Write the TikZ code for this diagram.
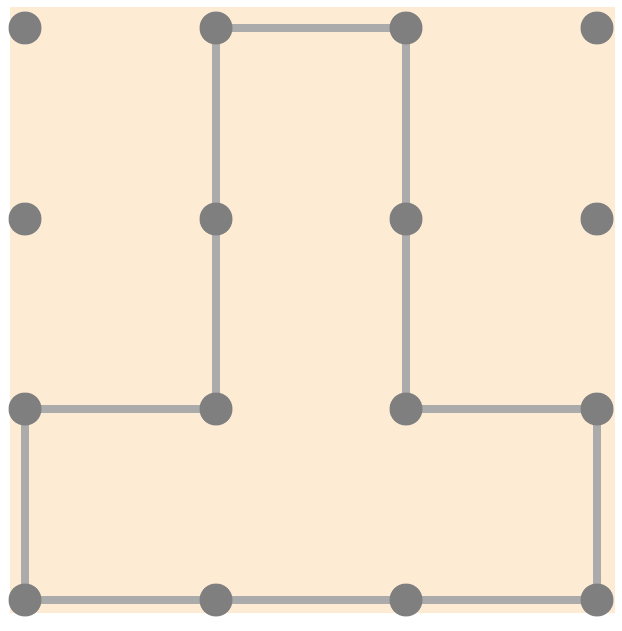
\documentclass[tikz,border=0pt]{standalone}
\definecolor{bgpeach}{HTML}{FDEBD4}
\definecolor{dotgray}{HTML}{7F7F7F}
\definecolor{linegray}{HTML}{ABABAB}
\tikzset{
  dotnode/.style={circle, fill=dotgray, minimum size=33pt, inner sep=0pt},
  edge/.style={draw=linegray, line width=7.5pt}
}
\begin{document}
\begin{tikzpicture}[x=1pt,y=-1pt]
\useasboundingbox (0,0) rectangle (621,631);
\fill[white] (0,0) rectangle (621,631);
\fill[bgpeach] (10,7) rectangle (615,613);
% coordinates
\foreach \i/\x in {0/25,1/216,2/406,3/597}{
  \foreach \j/\y in {0/28,1/219,2/409,3/600}{
    \coordinate (c\i\j) at (\x,\y);
  }
}
% edges
\draw[edge] (c10) -- (c20);
\draw[edge] (c10) -- (c12);
\draw[edge] (c20) -- (c22);
\draw[edge] (c02) -- (c12);
\draw[edge] (c22) -- (c32);
\draw[edge] (c02) -- (c03);
\draw[edge] (c32) -- (c33);
\draw[edge] (c03) -- (c33);
% dots
\foreach \i in {0,1,2,3}{
  \foreach \j in {0,1,2,3}{
    \node[dotnode] (d\i\j) at (c\i\j) {};
  }
}
\end{tikzpicture}
\end{document}
